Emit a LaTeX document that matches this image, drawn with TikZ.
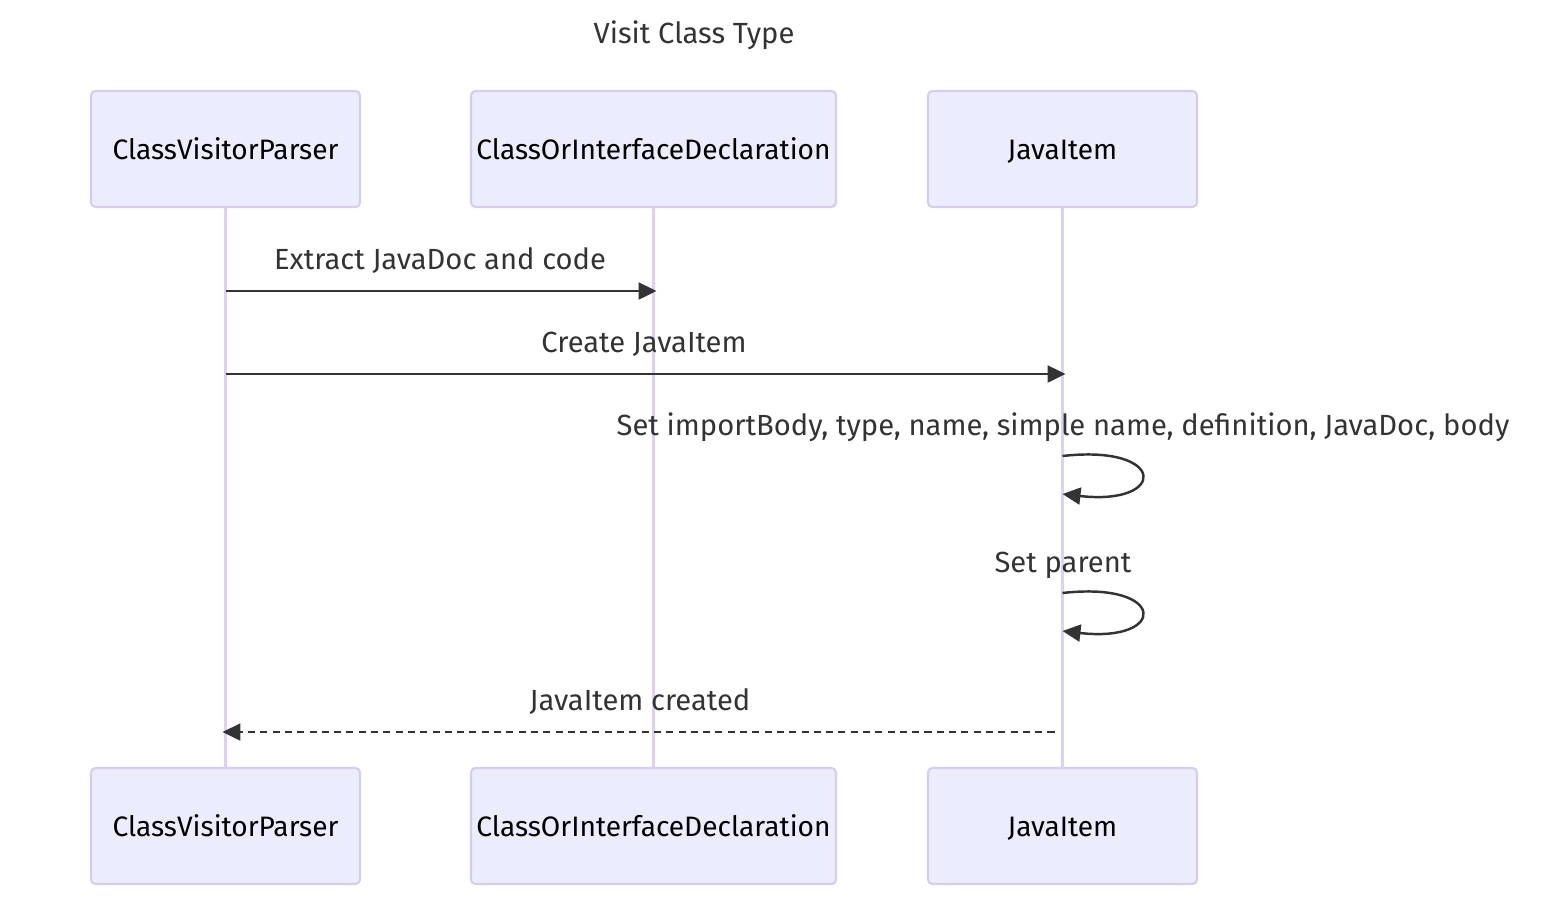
\documentclass[tikz,border=0pt]{standalone}
\usepackage{fontspec}
\setmainfont{Fira Sans}
\usetikzlibrary{arrows.meta}
\definecolor{actorfill}{HTML}{ECECFF}
\definecolor{actorline}{HTML}{D5CCF2}
\definecolor{lifeline}{HTML}{DCD0F7}
\definecolor{msgline}{HTML}{333333}
\tikzset{
  actor/.style={draw=actorline, line width=1.2pt, fill=actorfill, rounded corners=2.5pt,
    minimum height=2.32cm, inner sep=0pt, font=\fontsize{16}{19}\selectfont, text=black,
    text height=1.4em, text depth=0.2em},
  lifeln/.style={draw=lifeline, line width=1.6pt},
  msg/.style={draw=msgline, line width=1.4pt, -{Triangle[length=0.36cm, width=0.34cm]}},
  reply/.style={msg, dash pattern=on 4pt off 3pt},
  msgtext/.style={font=\fontsize{16.6}{19}\selectfont, text=msgline, inner sep=0pt}
}
\begin{document}
\begin{tikzpicture}[x=0.02cm, y=-0.02cm, line cap=butt, line join=round]
  % page frame in pixels of the reference
  \useasboundingbox (0,0) rectangle (1568,914);

  % Title
  \node[msgtext] (title) at (694,35) {Visit Class Type};

  % Participants, top row
  \node[actor, minimum width=5.38cm] (parserTop) at (225.5,149) {ClassVisitorParser};
  \node[actor, minimum width=7.3cm] (declTop) at (653.5,149) {ClassOrInterfaceDeclaration};
  \node[actor, minimum width=5.38cm] (itemTop) at (1062.5,149) {JavaItem};

  % Participants, bottom row
  \node[actor, minimum width=5.38cm] (parserBot) at (225.5,826) {ClassVisitorParser};
  \node[actor, minimum width=7.3cm] (declBot) at (653.5,826) {ClassOrInterfaceDeclaration};
  \node[actor, minimum width=5.38cm] (itemBot) at (1062.5,826) {JavaItem};

  % Lifelines
  \draw[lifeln] (parserTop) -- (parserBot);
  \draw[lifeln] (declTop) -- (declBot);
  \draw[lifeln] (itemTop) -- (itemBot);

  % Anchor points on the lifelines
  \coordinate (p1) at (parserTop |- 0,291);
  \coordinate (d1) at ([xshift=3*0.02cm]declTop |- 0,291);
  \coordinate (p2) at (parserTop |- 0,374);
  \coordinate (i2) at ([xshift=3*0.02cm]itemTop |- 0,374);
  \coordinate (i3a) at (itemTop |- 0,456);
  \coordinate (i3b) at (itemTop |- 0,494);
  \coordinate (i4a) at (itemTop |- 0,593);
  \coordinate (i4b) at (itemTop |- 0,631);
  \coordinate (i5) at ([xshift=-8*0.02cm]itemTop |- 0,732);
  \coordinate (p5) at ([xshift=-3*0.02cm]parserTop |- 0,732);

  % Messages
  \draw[msg] (p1) -- (d1);
  \node[msgtext] (lbl1) at (440,261) {Extract JavaDoc and code};

  \draw[msg] (p2) -- (i2);
  \node[msgtext] (lbl2) at (644,344) {Create JavaItem};

  \node[msgtext] (lbl3) at (1063,427) {Set importBody, type, name, simple name, definition, JavaDoc, body};
  \draw[msg] (i3a) .. controls ++(105,-12) and ++(105,12) .. (i3b);

  \node[msgtext] (lbl4) at (1063,565) {Set parent};
  \draw[msg] (i4a) .. controls ++(105,-12) and ++(105,12) .. (i4b);

  \draw[reply] (i5) -- (p5);
  \node[msgtext] (lbl5) at (640,702) {JavaItem created};
\end{tikzpicture}
\end{document}
